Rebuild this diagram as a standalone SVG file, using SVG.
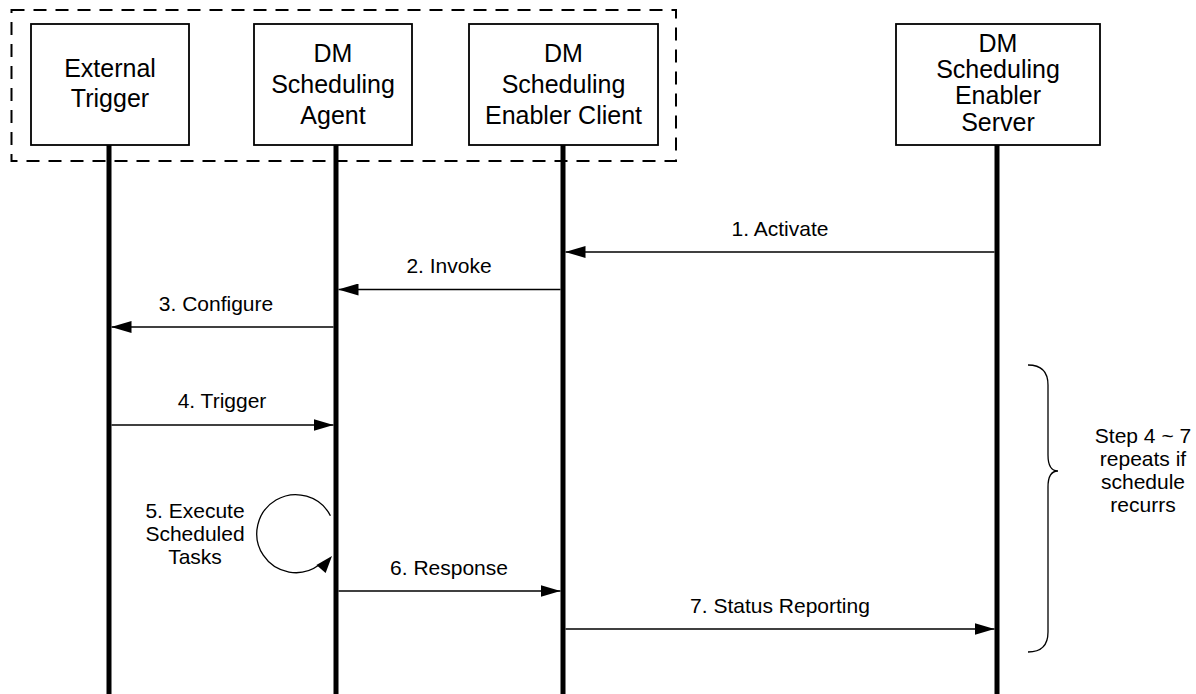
<svg xmlns="http://www.w3.org/2000/svg" width="1196" height="694" viewBox="0 0 1196 694">
  <style>
    .box { fill: #fff; stroke: #000; stroke-width: 1.8; }
    .life { stroke: #000; stroke-width: 5; }
    .group { fill: none; stroke: #000; stroke-width: 2; stroke-dasharray: 13 9; }
    .msg { stroke: #000; stroke-width: 1.3; fill: none; }
    .t { font-family: "Liberation Sans", Arial, sans-serif; fill: #000; text-anchor: middle; }
    .nt { font-size: 25px; }
    .lt { font-size: 21px; }
  </style>
  <defs>
    <marker id="ah" viewBox="0 0 20 12" refX="20" refY="6" markerWidth="20" markerHeight="12" markerUnits="userSpaceOnUse" orient="auto">
      <path d="M0,0 L20,6 L0,12 Z" fill="#000"/>
    </marker>
  </defs>
  <rect width="1196" height="694" fill="#fff"/>

  <g id="device-boundary">
    <rect class="group" x="11.5" y="10" width="664.5" height="151"/>
  </g>

  <g id="external-trigger">
    <line class="life" x1="109" y1="145" x2="109" y2="694"/>
    <rect class="box" x="31" y="24" width="158" height="121"/>
    <text class="t nt" x="110" y="77">External</text>
    <text class="t nt" x="110" y="107">Trigger</text>
  </g>

  <g id="dm-scheduling-agent">
    <line class="life" x1="336" y1="145" x2="336" y2="694"/>
    <rect class="box" x="254" y="24" width="158" height="121"/>
    <text class="t nt" x="333" y="62">DM</text>
    <text class="t nt" x="333" y="93">Scheduling</text>
    <text class="t nt" x="333" y="124">Agent</text>
  </g>

  <g id="dm-scheduling-enabler-client">
    <line class="life" x1="563" y1="145" x2="563" y2="694"/>
    <rect class="box" x="469" y="24" width="189" height="121"/>
    <text class="t nt" x="563.5" y="62">DM</text>
    <text class="t nt" x="563.5" y="93">Scheduling</text>
    <text class="t nt" x="563.5" y="124">Enabler Client</text>
  </g>

  <g id="dm-scheduling-enabler-server">
    <line class="life" x1="997" y1="145" x2="997" y2="694"/>
    <rect class="box" x="896" y="24" width="204" height="121"/>
    <text class="t nt" x="998" y="52">DM</text>
    <text class="t nt" x="998" y="78">Scheduling</text>
    <text class="t nt" x="998" y="104">Enabler</text>
    <text class="t nt" x="998" y="131">Server</text>
  </g>

  <g id="connectors">
    <line class="msg" x1="994.5" y1="252" x2="565.5" y2="252" marker-end="url(#ah)"/>
    <text class="t lt" x="780" y="236">1. Activate</text>

    <line class="msg" x1="560.5" y1="289.5" x2="338.5" y2="289.5" marker-end="url(#ah)"/>
    <text class="t lt" x="449" y="273">2. Invoke</text>

    <line class="msg" x1="333.5" y1="327" x2="111.5" y2="327" marker-end="url(#ah)"/>
    <text class="t lt" x="216" y="311">3. Configure</text>

    <line class="msg" x1="111.5" y1="425" x2="333.5" y2="425" marker-end="url(#ah)"/>
    <text class="t lt" x="222" y="408">4. Trigger</text>

    <path class="msg" d="M330.4,515.7 A39,39 0 1 0 319,565"/>
    <polygon points="332,556 325.6,572.9 316.4,565.1" fill="#000"/>
    <text class="t lt" x="195" y="518">5. Execute</text>
    <text class="t lt" x="195" y="541">Scheduled</text>
    <text class="t lt" x="195" y="564">Tasks</text>

    <line class="msg" x1="338.5" y1="591" x2="560.5" y2="591" marker-end="url(#ah)"/>
    <text class="t lt" x="449" y="575">6. Response</text>

    <line class="msg" x1="565.5" y1="629" x2="994.5" y2="629" marker-end="url(#ah)"/>
    <text class="t lt" x="780" y="613">7. Status Reporting</text>
  </g>

  <g id="repeat-note">
    <path class="msg" d="M1028,365 Q1048,365 1048,385 L1048,455 Q1048,471 1058,471 Q1048,471 1048,487 L1048,632 Q1048,652 1028,652"/>
    <text class="t lt" x="1143" y="443">Step 4 ~ 7</text>
    <text class="t lt" x="1143" y="466">repeats if</text>
    <text class="t lt" x="1143" y="489">schedule</text>
    <text class="t lt" x="1143" y="512">recurrs</text>
  </g>
</svg>
